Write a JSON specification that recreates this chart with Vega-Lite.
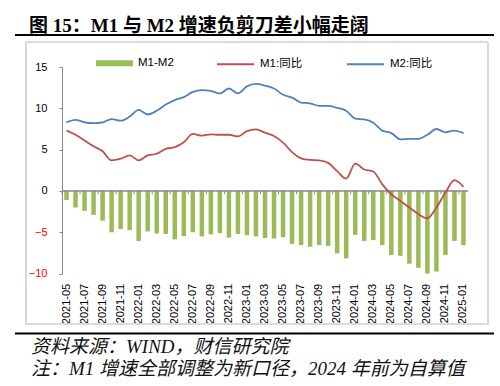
{
  "$schema": "https://vega.github.io/schema/vega-lite/v6.json",
  "background": "white",
  "padding": {"left": 14, "top": 17, "right": 7, "bottom": 0},
  "spacing": 5,
  "config": {"view": {"stroke": null}},
  "vconcat": [
    {
      "width": 406,
      "height": 2,
      "title": {"text": "图 15：M1 与 M2 增速负剪刀差小幅走阔", "anchor": "start", "frame": "group", "font": "Liberation Serif, Noto Sans CJK SC", "fontSize": 19, "fontWeight": "bold", "offset": -3, "dx": -33, "color": "black"},
      "data": {"values": [{"k": 1}]},
      "mark": {"type": "rule", "strokeWidth": 2, "color": "black"},
      "encoding": {
        "x": {"datum": -0.11576, "type": "quantitative", "scale": {"domain": [0, 1]}, "axis": null},
        "x2": {"datum": 1.06404},
        "y": {"datum": 0, "type": "quantitative", "scale": {"domain": [0, 1]}, "axis": null}
      }
    },
    {
      "width": 406,
      "height": 206.6,
      "data": {"values": [
        {"month": "2021-05", "m1": 7.3, "m2": 8.3, "diff": -1.1},
        {"month": "2021-06", "m1": 6.8, "m2": 8.6, "diff": -2.0},
        {"month": "2021-07", "m1": 6.1, "m2": 8.3, "diff": -2.4},
        {"month": "2021-08", "m1": 5.4, "m2": 8.2, "diff": -2.9},
        {"month": "2021-09", "m1": 4.8, "m2": 8.3, "diff": -3.6},
        {"month": "2021-10", "m1": 3.7, "m2": 8.7, "diff": -5.0},
        {"month": "2021-11", "m1": 3.9, "m2": 8.5, "diff": -4.6},
        {"month": "2021-12", "m1": 4.3, "m2": 9.0, "diff": -4.75},
        {"month": "2022-01", "m1": 3.7, "m2": 9.8, "diff": -6.05},
        {"month": "2022-02", "m1": 4.3, "m2": 9.25, "diff": -4.9},
        {"month": "2022-03", "m1": 4.5, "m2": 9.7, "diff": -5.15},
        {"month": "2022-04", "m1": 5.1, "m2": 10.45, "diff": -5.2},
        {"month": "2022-05", "m1": 5.3, "m2": 11.0, "diff": -5.85},
        {"month": "2022-06", "m1": 5.9, "m2": 11.35, "diff": -5.45},
        {"month": "2022-07", "m1": 6.9, "m2": 12.0, "diff": -5.0},
        {"month": "2022-08", "m1": 6.7, "m2": 12.2, "diff": -5.5},
        {"month": "2022-09", "m1": 6.85, "m2": 12.1, "diff": -5.25},
        {"month": "2022-10", "m1": 6.8, "m2": 11.8, "diff": -5.1},
        {"month": "2022-11", "m1": 6.8, "m2": 12.4, "diff": -5.65},
        {"month": "2022-12", "m1": 6.6, "m2": 11.8, "diff": -5.2},
        {"month": "2023-01", "m1": 7.25, "m2": 12.65, "diff": -5.35},
        {"month": "2023-02", "m1": 7.45, "m2": 12.95, "diff": -5.5},
        {"month": "2023-03", "m1": 7.05, "m2": 12.75, "diff": -5.7},
        {"month": "2023-04", "m1": 6.65, "m2": 12.4, "diff": -5.75},
        {"month": "2023-05", "m1": 5.85, "m2": 11.65, "diff": -5.6},
        {"month": "2023-06", "m1": 4.7, "m2": 11.3, "diff": -6.4},
        {"month": "2023-07", "m1": 3.95, "m2": 10.7, "diff": -6.55},
        {"month": "2023-08", "m1": 3.75, "m2": 10.6, "diff": -6.75},
        {"month": "2023-09", "m1": 3.7, "m2": 10.3, "diff": -6.55},
        {"month": "2023-10", "m1": 3.4, "m2": 10.3, "diff": -6.65},
        {"month": "2023-11", "m1": 2.4, "m2": 10.05, "diff": -7.55},
        {"month": "2023-12", "m1": 1.5, "m2": 9.7, "diff": -8.15},
        {"month": "2024-01", "m1": 3.3, "m2": 8.75, "diff": -5.3},
        {"month": "2024-02", "m1": 2.6, "m2": 8.65, "diff": -6.05},
        {"month": "2024-03", "m1": 2.35, "m2": 8.25, "diff": -5.95},
        {"month": "2024-04", "m1": 0.8, "m2": 7.3, "diff": -6.55},
        {"month": "2024-05", "m1": -0.4, "m2": 7.0, "diff": -7.75},
        {"month": "2024-06", "m1": -1.2, "m2": 6.25, "diff": -7.85},
        {"month": "2024-07", "m1": -2.0, "m2": 6.3, "diff": -8.8},
        {"month": "2024-08", "m1": -2.8, "m2": 6.3, "diff": -9.3},
        {"month": "2024-09", "m1": -3.3, "m2": 6.8, "diff": -10.0},
        {"month": "2024-10", "m1": -2.0, "m2": 7.5, "diff": -9.75},
        {"month": "2024-11", "m1": -0.2, "m2": 7.1, "diff": -7.75},
        {"month": "2024-12", "m1": 1.3, "m2": 7.3, "diff": -6.05},
        {"month": "2025-01", "m1": 0.5, "m2": 7.0, "diff": -6.55}
      ]},
      "layer": [
        {
          "mark": {"type": "rect", "filled": false, "stroke": "#D9D9D9", "strokeWidth": 1},
          "encoding": {
            "x": {"datum": -0.08867, "type": "quantitative", "scale": {"domain": [0, 1]}, "axis": null},
            "x2": {"datum": 1.04926},
            "y": {"datum": -0.2454, "type": "quantitative", "scale": {"domain": [0, 1]}, "axis": null},
            "y2": {"datum": 1.11955}
          }
        },
        {
          "layer": [
            {
              "mark": {"type": "bar", "width": {"band": 0.5}, "color": "#9BBB59"},
              "encoding": {
                "x": {"field": "month", "type": "ordinal",
                  "scale": {"type": "band", "paddingInner": 0, "paddingOuter": 0},
                  "axis": {"orient": "bottom", "labelAngle": -90, "labelFontSize": 11, "labelFont": "Liberation Sans", "labelColor": "black", "ticks": false, "tickSize": 0, "domain": false, "labelPadding": 9.7, "title": null, "grid": false,
                    "values": ["2021-05","2021-07","2021-09","2021-11","2022-01","2022-03","2022-05","2022-07","2022-09","2022-11","2023-01","2023-03","2023-05","2023-07","2023-09","2023-11","2024-01","2024-03","2024-05","2024-07","2024-09","2024-11","2025-01"]}},
                "y": {"field": "diff", "type": "quantitative",
                  "scale": {"domain": [-10, 15], "nice": false, "zero": false},
                  "axis": {"values": [-10, -5, 0, 5, 10, 15], "domain": true, "domainColor": "#868686", "ticks": true, "tickSize": 3, "tickColor": "#868686", "labelPadding": 12, "labelFontSize": 11, "labelFont": "Liberation Sans", "grid": false, "title": null,
                    "labelColor": {"condition": {"test": "datum.value < 0", "value": "#FF0000"}, "value": "black"}}},
                "color": {"datum": "M1-M2", "scale": {"range": ["#9BBB59"]},
                  "legend": {"orient": "none", "legendX": 34, "legendY": -22.2, "title": null, "padding": 0, "symbolType": "M-1,-0.16H1V0.16H-1Z", "symbolSize": 1369, "symbolStrokeWidth": 0, "labelFontSize": 11.5, "labelFont": "Liberation Sans, Noto Sans CJK SC", "labelOffset": 5, "labelColor": "black"}}
              }
            },
            {
              "mark": {"type": "bar", "filled": false, "stroke": "#868686", "strokeWidth": 1},
              "encoding": {
                "x": {"field": "month", "type": "ordinal"},
                "y": {"datum": 0, "type": "quantitative"},
                "y2": {"datum": 0}
              }
            },
            {
              "transform": [{"filter": "toNumber(substring(datum.month, 5, 7)) % 2 == 1"}],
              "mark": {"type": "rule", "color": "#868686", "strokeWidth": 1},
              "encoding": {
                "x": {"field": "month", "type": "ordinal", "bandPosition": 0},
                "y": {"datum": 0, "type": "quantitative"},
                "y2": {"datum": -0.4}
              }
            },
            {
              "mark": {"type": "line", "interpolate": "monotone", "strokeWidth": 1.8},
              "encoding": {
                "x": {"field": "month", "type": "ordinal"},
                "y": {"field": "m1", "type": "quantitative"},
                "color": {"datum": "M1:同比", "scale": {"range": ["#C0504D"]},
                  "legend": {"orient": "none", "legendX": 154, "legendY": -22.2, "title": null, "padding": 0, "symbolType": "stroke", "symbolSize": 1369, "symbolStrokeWidth": 2, "labelFontSize": 11.5, "labelFont": "Liberation Sans, Noto Sans CJK SC", "labelOffset": 5, "labelColor": "black"}}
              }
            },
            {
              "mark": {"type": "line", "interpolate": "monotone", "strokeWidth": 1.8},
              "encoding": {
                "x": {"field": "month", "type": "ordinal"},
                "y": {"field": "m2", "type": "quantitative"},
                "color": {"datum": "M2:同比", "scale": {"range": ["#4F81BD"]},
                  "legend": {"orient": "none", "legendX": 284, "legendY": -22.2, "title": null, "padding": 0, "symbolType": "stroke", "symbolSize": 1369, "symbolStrokeWidth": 2, "labelFontSize": 11.5, "labelFont": "Liberation Sans, Noto Sans CJK SC", "labelOffset": 5, "labelColor": "black"}}
              }
            }
          ],
          "resolve": {"scale": {"color": "independent"}, "legend": {"color": "independent"}}
        }
      ],
      "resolve": {"scale": {"x": "independent", "y": "independent"}, "axis": {"x": "independent", "y": "independent"}}
    },
    {
      "width": 406,
      "height": 3.5,
      "title": {"text": ["资料来源：WIND，财信研究院", "注：M1 增速全部调整为新口径，2024 年前为自算值"], "orient": "bottom", "anchor": "start", "frame": "group", "font": "Liberation Serif, Noto Sans CJK SC", "fontSize": 19, "fontStyle": "italic", "fontWeight": "normal", "lineHeight": 22, "offset": 3, "dx": -31, "color": "#111111"},
      "data": {"values": [{"k": 1}]},
      "mark": {"type": "rule", "strokeWidth": 2, "color": "black"},
      "encoding": {
        "x": {"datum": -0.11576, "type": "quantitative", "scale": {"domain": [0, 1]}, "axis": null},
        "x2": {"datum": 1.06404},
        "y": {"datum": 0, "type": "quantitative", "scale": {"domain": [0, 1]}, "axis": null}
      }
    }
  ]
}
